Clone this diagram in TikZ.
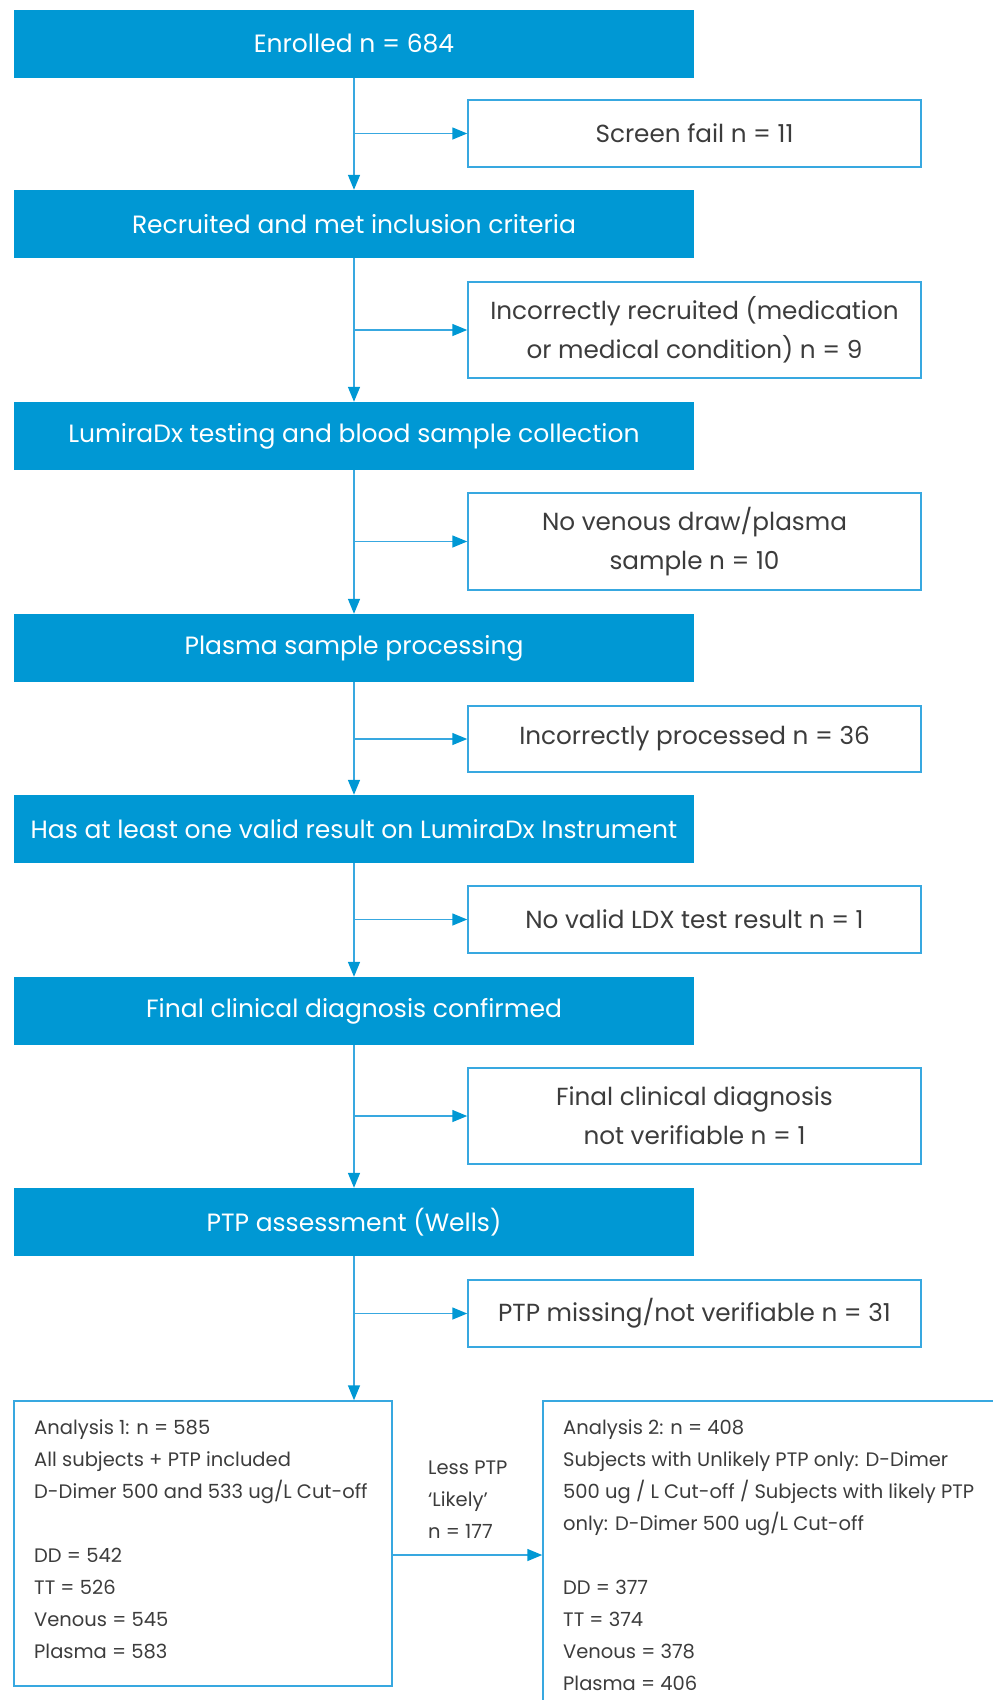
\documentclass[tikz,border=0pt]{standalone}
\usepackage{fontspec}
\setmainfont{Poppins}
\usetikzlibrary{arrows.meta}
\definecolor{mainblue}{RGB}{0,152,212}
\definecolor{lineblue}{RGB}{56,168,224}
\definecolor{txtgray}{RGB}{60,60,60}
\tikzset{
  mainbox/.style={rectangle, fill=mainblue, draw=none, minimum width=680pt, minimum height=68pt, inner sep=0pt,
    text=white, font=\fontsize{25}{30}\selectfont},
  sidebox/.style={rectangle, draw=lineblue, line width=1.5pt, fill=white, minimum width=453pt, inner sep=0pt,
    text=txtgray, align=center, font=\fontsize{24.7}{39}\selectfont},
  anbox/.style={rectangle, draw=lineblue, line width=1.5pt, inner sep=0pt},
  antext/.style={anchor=north west, inner sep=0pt, align=left, text=txtgray, font=\fontsize{19.5}{32}\selectfont},
  conn/.style={draw=lineblue, line width=1.5pt, -{Triangle[length=15pt,width=12pt,fill=mainblue,color=mainblue]}},
}
\begin{document}
\begin{tikzpicture}[x=1pt,y=-1pt]
\useasboundingbox (0,0) rectangle (993,1700);
\clip (0,0) rectangle (993,1700);
% main column
\node[mainbox] (enr) at (354,43.5) {Enrolled n = 684};
\node[mainbox] (rec) at (354,224) {Recruited and met inclusion criteria};
\node[mainbox] (ldx) at (354,436) {LumiraDx testing and blood sample collection};
\node[mainbox] (psp) at (354,648) {Plasma sample processing};
\node[mainbox] (val) at (354,829) {Has at least one valid result on LumiraDx Instrument};
\node[mainbox] (fcd) at (354,1011) {Final clinical diagnosis confirmed};
\node[mainbox] (ptp) at (354,1222) {PTP assessment (Wells)};
% side boxes
\node[sidebox, minimum height=67pt] (sf) at (694.5,133.5) {Screen fail n = 11};
\node[sidebox, minimum height=96pt] (ir) at (694.5,330) {Incorrectly recruited (medication\\or medical condition) n = 9};
\node[sidebox, minimum height=97pt] (nv) at (694.5,541.5) {No venous draw/plasma\\sample n = 10};
\node[sidebox, minimum height=66pt] (ip) at (694.5,739) {Incorrectly processed n = 36};
\node[sidebox, minimum height=67pt] (nl) at (694.5,919.5) {No valid LDX test result n = 1};
\node[sidebox, minimum height=96pt] (nf) at (694.5,1116) {Final clinical diagnosis\\not verifiable n = 1};
\node[sidebox, minimum height=67pt] (pm) at (694.5,1313.5) {PTP missing/not verifiable n = 31};
% analysis boxes
\node[anbox, minimum width=378pt, minimum height=285pt] (a1) at (203,1543.5) {};
\node[anbox, minimum width=480pt, minimum height=340pt] (a2) at (783,1571) {};
\node[antext] (a1t) at (34,1419) {Analysis 1: n = 585\\All subjects + PTP included\\D-Dimer 500 and 533 ug/L Cut-off\\[32pt]DD = 542\\TT = 526\\Venous = 545\\Plasma = 583};
\node[antext] (a2t) at (563,1419) {Analysis 2: n = 408\\Subjects with Unlikely PTP only: D-Dimer\\500 ug / L Cut-off / Subjects with likely PTP\\only: D-Dimer 500 ug/L Cut-off\\[32pt]DD = 377\\TT = 374\\Venous = 378\\Plasma = 406};
\node[antext] (lbl) at (428,1461) {Less PTP\\‘Likely’\\n = 177};
% connectors
\draw[conn] (enr) -- (rec);
\draw[conn] (rec) -- (ldx);
\draw[conn] (ldx) -- (psp);
\draw[conn] (psp) -- (val);
\draw[conn] (val) -- (fcd);
\draw[conn] (fcd) -- (ptp);
\draw[conn] (ptp) -- (ptp.south |- a1.north);
\draw[conn] (enr.south |- sf.west) -- (sf.west);
\draw[conn] (rec.south |- ir.west) -- (ir.west);
\draw[conn] (ldx.south |- nv.west) -- (nv.west);
\draw[conn] (psp.south |- ip.west) -- (ip.west);
\draw[conn] (val.south |- nl.west) -- (nl.west);
\draw[conn] (fcd.south |- nf.west) -- (nf.west);
\draw[conn] (ptp.south |- pm.west) -- (pm.west);
\coordinate (a1o) at (a1.east |- 0,1555);
\draw[conn] (a1o) -- (a1o -| a2.west);
\end{tikzpicture}
\end{document}
